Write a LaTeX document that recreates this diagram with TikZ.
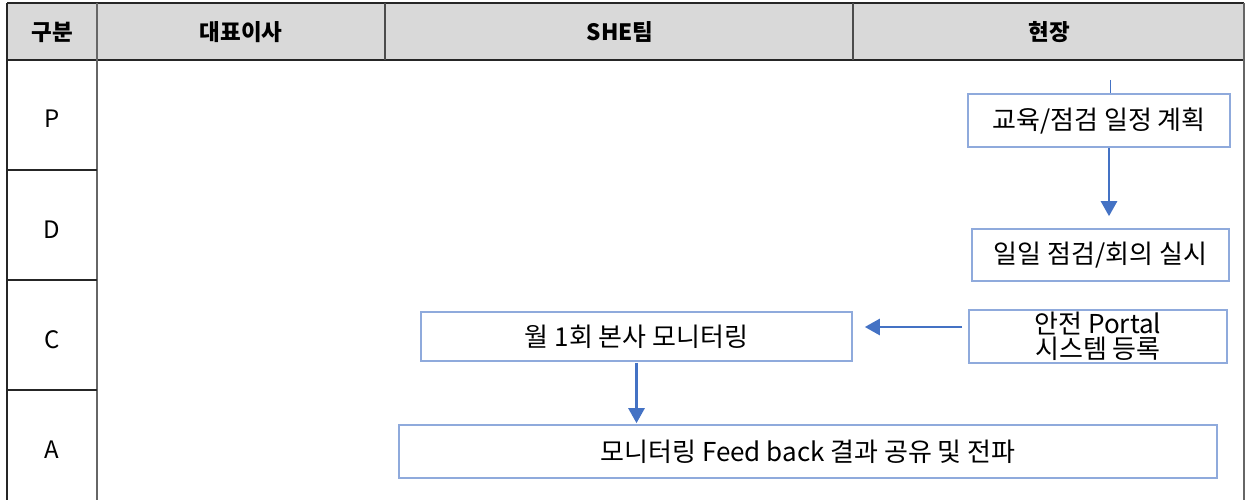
\documentclass[tikz,border=0pt]{standalone}
\usepackage{fontspec}
\setmainfont{Noto Sans CJK KR}
\usetikzlibrary{arrows.meta,calc}
\definecolor{hdr}{HTML}{D9D9D9}
\definecolor{boxline}{HTML}{8FAADC}
\definecolor{arrowblue}{HTML}{4472C4}
\begin{document}
\begin{tikzpicture}[x=1pt,y=-1pt,
  tline/.style={line width=1.4pt,black!85},
  hdrtext/.style={font=\fontsize{22.5}{26}\selectfont\bfseries},
  rowtext/.style={font=\fontsize{24}{28}\selectfont},
  flowbox/.style={draw=boxline,line width=1.6pt,fill=white,inner sep=0pt,
    font=\fontsize{26}{26}\selectfont,align=center},
  arr/.style={draw=arrowblue,line width=2.6pt,-{Triangle[length=15pt,width=16pt]}}]
\useasboundingbox (0,0) rectangle (1252,500);
% header
\fill[hdr] (7,3) rectangle (1244,60);
\draw[tline] (7,3) -- (1244,3);
\draw[tline] (7,60) -- (1244,60);
\draw[tline] (7,3) -- (7,500);
\draw[line width=1.6pt,black!60] (97,3) -- (97,500);
\draw[line width=1.4pt,black!70] (385,3) -- (385,60);
\draw[line width=1.4pt,black!70] (853,3) -- (853,60);
\draw[line width=1.6pt,black!60] (1244,3) -- (1244,500);
\draw[tline] (7,170) -- (97,170);
\draw[tline] (7,280) -- (97,280);
\draw[tline] (7,390) -- (97,390);
\node[hdrtext] (h1) at (52,32) {구분};
\node[hdrtext] (h2) at (241,32) {대표이사};
\node[hdrtext] (h3) at (620,32) {SHE팀};
\node[hdrtext] (h4) at (1049,32) {현장};
\node[rowtext] (rP) at (52,119) {P};
\node[rowtext] (rD) at (52,230) {D};
\node[rowtext] (rC) at (52,340) {C};
\node[rowtext] (rA) at (52,450) {A};
% flow boxes
\node[flowbox,minimum width=262pt,minimum height=53pt] (plan) at (1099,120.5) {교육/점검 일정 계획};
\node[flowbox,minimum width=257pt,minimum height=52pt] (do) at (1100.5,255) {일일 점검/회의 실시};
\node[flowbox,minimum width=258pt,minimum height=53pt] (portal) at (1098,336.5) {안전 Portal\\[-1pt]시스템 등록};
\node[flowbox,minimum width=431pt,minimum height=49pt] (mon) at (636.5,336.5) {월 1회 본사 모니터링};
\node[flowbox,minimum width=818pt,minimum height=53pt] (fb) at (808,451.5) {모니터링 Feed back 결과 공유 및 전파};
% connectors
\coordinate (top) at (1110,80);
\draw[arrowblue,line width=1pt] (top) -- (top |- plan.north);
\draw[arr,shorten >=12pt] ([xshift=10pt]plan.south) -- ([xshift=8.5pt]do.north);
\draw[arr,shorten <=6pt,shorten >=12pt] ($(portal.west)+(0,-9.5)$) -- ($(mon.east |- portal.west)+(0,-9.5)$);
\draw[arr,shorten <=1pt,shorten >=1pt] (mon.south) -- (mon.south |- fb.north);
\end{tikzpicture}
\end{document}
